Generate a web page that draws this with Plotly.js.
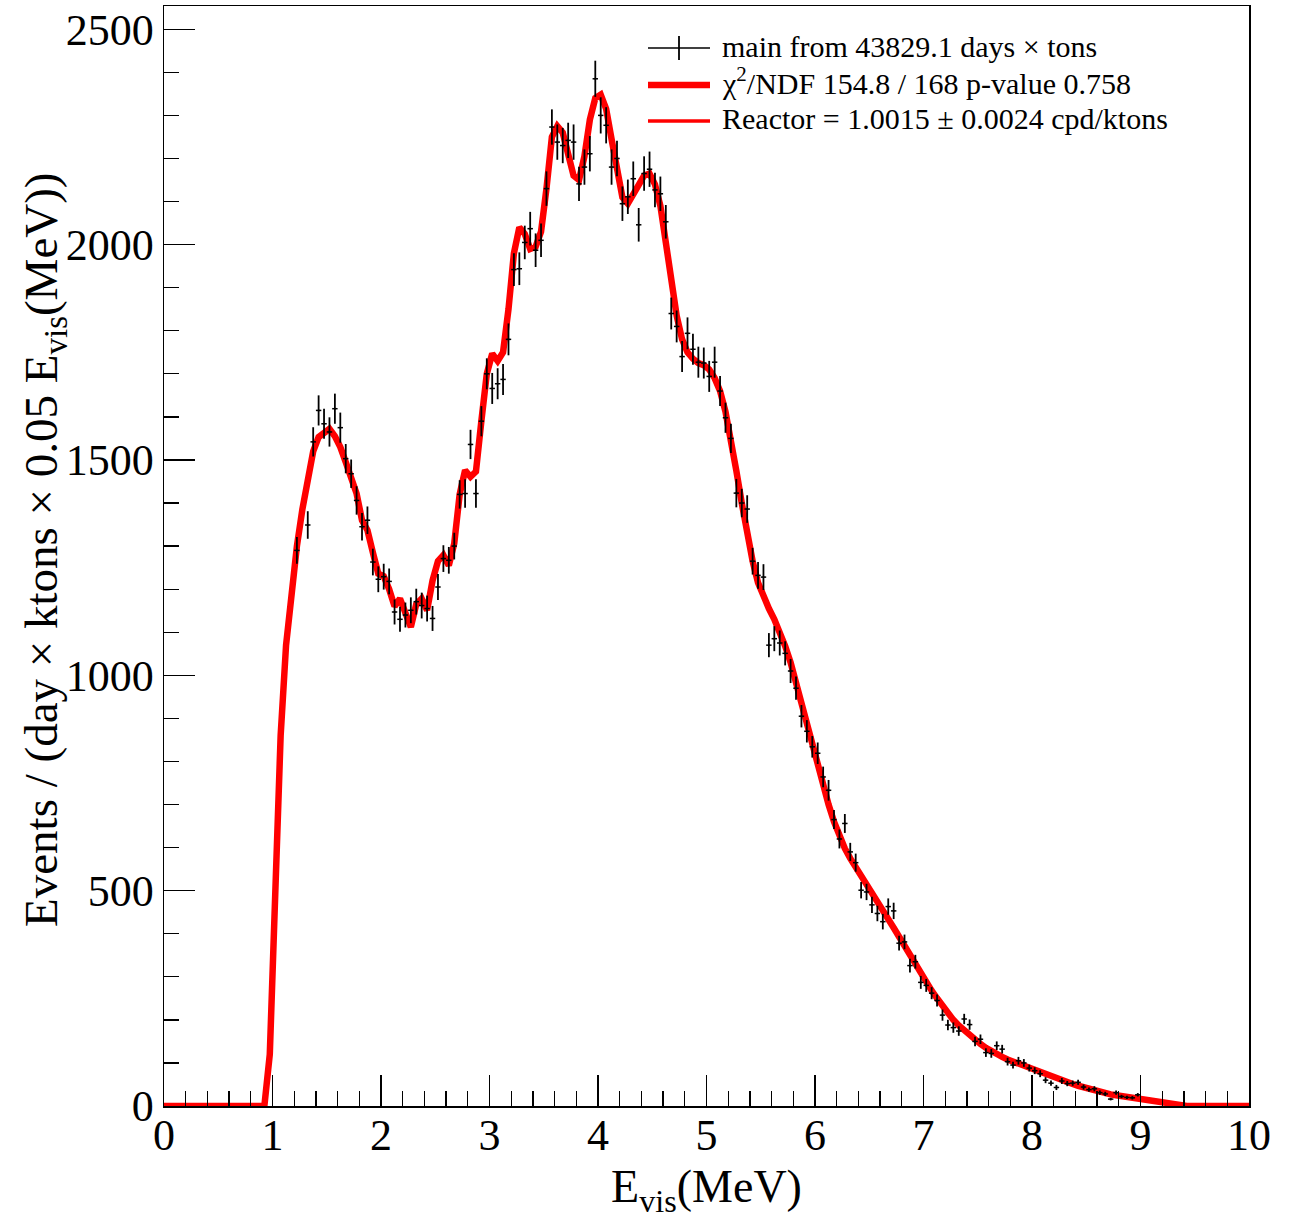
<!DOCTYPE html>
<html>
<head>
<meta charset="utf-8">
<script src="https://cdn.plot.ly/plotly-3.0.1.min.js"></script>
<style>html,body{margin:0;padding:0;background:#fff;}#chart{width:1294px;height:1219px;}</style>
</head>
<body>
<div id="chart"></div>
<script>
// ---------- data ----------
const dataE = [1.225,1.325,1.375,1.425,1.475,1.525,1.575,1.625,1.675,1.725,1.775,1.825,1.875,1.925,1.975,
2.025,2.075,2.125,2.175,2.225,2.275,2.325,2.375,2.425,2.475,2.525,2.575,2.625,2.675,2.725,2.775,2.825,2.875,2.925,2.975,
3.025,3.075,3.125,3.175,3.225,3.275,3.325,3.375,3.425,3.475,3.525,3.575,3.625,3.675,3.725,3.775,3.825,3.875,3.925,3.975,
4.025,4.075,4.125,4.175,4.225,4.275,4.325,4.375,4.425,4.475,4.525,4.575,4.625,4.675,4.725,4.775,4.825,4.875,4.925,4.975,
5.025,5.075,5.125,5.175,5.225,5.275,5.325,5.375,5.425,5.475,5.525,5.575,5.625,5.675,5.725,5.775,5.825,5.875,5.925,5.975,
6.025,6.075,6.125,6.175,6.225,6.275,6.325,6.375,6.425,6.475,6.525,6.575,6.625,6.675,6.725,6.775,6.825,6.875,6.925,6.975,
7.025,7.075,7.125,7.175,7.225,7.275,7.325,7.375,7.425,7.475,7.525,7.575,7.625,7.675,7.725,7.775,7.825,7.875,7.925,7.975,
8.025,8.075,8.125,8.175,8.225,8.275,8.325,8.375,8.425,8.475,8.525,8.575,8.625,8.675,8.725,8.775,8.825,8.875,8.925,8.975];

const dataCounts = [1290,1349,1542,1615,1584,1565,1619,1575,1503,1468,1406,1345,1360,1263,1223,
1229,1218,1147,1130,1140,1151,1171,1162,1155,1132,1205,1271,1267,1300,1420,1422,1536,1422,1590,1700,
1666,1677,1687,1780,1942,1944,2005,2037,1987,2010,2130,2273,2238,2230,2242,2238,2141,2180,2211,2385,
2300,2277,2180,2200,2095,2111,2153,2046,2165,2175,2127,2118,2053,1840,1810,1740,1794,1757,1727,1725,
1694,1727,1660,1598,1550,1423,1400,1386,1265,1232,1228,1070,1085,1075,1051,1010,970,905,870,834,
819,764,733,665,620,656,590,565,501,497,467,447,428,463,453,378,381,326,335,287,
280,262,245,211,188,182,174,202,189,150,155,124,122,140,132,103,95,105,100,88,
82,75,60,53,43,58,52,53,55,44,38,40,31,28,16,31,22,20,19,26];

const dataErrors = [31,32,34,35,35,34,35,35,34,33,33,32,32,31,30,
30,30,29,29,29,30,30,30,30,29,30,31,31,31,33,33,34,33,35,36,
36,36,36,37,38,38,39,39,39,39,40,41,41,41,41,41,40,41,41,42,
42,42,41,41,40,40,40,39,40,41,40,40,39,37,37,36,37,36,36,36,
36,36,35,35,34,33,33,32,31,31,30,28,29,29,28,28,27,26,26,25,
25,24,24,22,22,22,21,21,19,19,19,18,18,19,19,17,17,16,16,15,
15,14,14,13,12,12,11,12,12,11,11,10,10,10,10,9,8,9,9,8,
8,8,7,6,6,7,6,6,6,6,5,6,5,5,3,5,4,4,4,4];

const fitE = [0,0.925,0.975,1.025,1.075,1.125,1.175,1.225,1.275,1.325,1.375,1.425,1.475,1.525,1.575,1.625,1.675,1.725,1.775,1.825,1.875,1.925,1.975,
2.025,2.075,2.125,2.175,2.225,2.275,2.325,2.375,2.425,2.475,2.525,2.575,2.625,2.675,2.725,2.775,2.825,2.875,2.925,2.975,
3.025,3.075,3.125,3.175,3.225,3.275,3.325,3.375,3.425,3.475,3.525,3.575,3.625,3.675,3.725,3.775,3.825,3.875,3.925,3.975,
4.025,4.075,4.125,4.175,4.225,4.275,4.325,4.375,4.425,4.475,4.525,4.575,4.625,4.675,4.725,4.775,4.825,4.875,4.925,4.975,
5.025,5.075,5.125,5.175,5.225,5.275,5.325,5.375,5.425,5.475,5.525,5.575,5.625,5.675,5.725,5.775,5.825,5.875,5.925,5.975,
6.025,6.075,6.125,6.175,6.225,6.275,6.325,6.375,6.425,6.475,6.525,6.575,6.625,6.675,6.725,6.775,6.825,6.875,6.925,6.975,
7.025,7.075,7.125,7.175,7.225,7.275,7.325,7.375,7.425,7.475,7.525,7.575,7.625,7.675,7.725,7.775,7.825,7.875,7.925,7.975,
8.025,8.075,8.125,8.175,8.225,8.275,8.325,8.375,8.425,8.475,8.525,8.575,8.625,8.675,8.725,8.775,8.825,8.875,8.925,8.975,
9.025,9.075,9.125,9.175,9.225,9.275,9.325,9.375,9.425,10];

const fitCounts = [0,0,120,510,860,1070,1195,1300,1385,1460,1520,1553,1565,1572,1555,1530,1495,1455,1422,1360,1337,1285,1236,
1230,1200,1160,1178,1145,1112,1165,1178,1151,1220,1265,1279,1255,1306,1420,1476,1461,1473,1590,1700,
1747,1730,1750,1850,1980,2040,2025,1990,1995,2030,2130,2250,2275,2260,2210,2160,2150,2205,2290,2340,
2348,2315,2245,2170,2110,2095,2115,2140,2160,2165,2140,2090,2010,1910,1835,1780,1750,1735,1725,1720,
1710,1690,1660,1612,1550,1475,1400,1330,1265,1215,1180,1155,1130,1100,1068,1030,982,932,880,830,
790,745,700,660,625,598,575,555,537,520,500,480,458,436,414,393,371,350,328,308,
288,268,250,232,215,200,187,175,164,154,144,135,127,120,114,108,103,98,93,88,
83,78,73,68,63,59,55,51,47,43,40,36,33,30,27,25,23,21,19,17,
15,13,10,7,5,3,1.5,0.5,0,0];

const xTickVals = [0,1,2,3,4,5,6,7,8,9,10];
const yTickVals = [0,500,1000,1500,2000,2500];
const xTitle = "E<sub>vis</sub>(MeV)";
const yTitle = "Events / (day × ktons × 0.05 E<sub>vis</sub>(MeV))";
const legendLabels = [
  "main from 43829.1 days × tons",
  "χ<sup>2</sup>/NDF 154.8 / 168 p-value 0.758",
  "Reactor = 1.0015 ± 0.0024 cpd/ktons"
];

// ---------- plot ----------
const FONT = "Liberation Serif, Times New Roman, serif";
const PW = 1085, PH = 1100, ML = 164, MT = 6;   // plot area in px
const px2x = p => (p - ML) / PW;                 // pixel -> paper x
const py2y = p => 1 - (p - MT) / PH;             // pixel -> paper y

const fitTrace = {
  x: fitE, y: fitCounts, type: "scatter", mode: "lines",
  line: {color: "#ff0000", width: 6.5},
  hoverinfo: "skip", showlegend: false
};
const dataTrace = {
  x: dataE, y: dataCounts, type: "scatter", mode: "markers",
  marker: {color: "black", size: 2},
  error_y: {type: "data", array: dataErrors, visible: true, color: "black", thickness: 1.8, width: 0},
  error_x: {type: "constant", value: 0.025, visible: true, color: "black", thickness: 1.5, width: 0},
  showlegend: false
};

const axisCommon = {
  showline: true, linecolor: "black", linewidth: 1.5, mirror: true,
  ticks: "inside", ticklen: 31, tickwidth: 1.3, tickcolor: "black",
  showgrid: false, zeroline: false,
  tickfont: {family: FONT, size: 44, color: "black"}
};

// manual legend (ROOT style, no frame)
const legRows = [48, 85, 121];
const legTextShift = [2, 4, 2];
const legX0 = px2x(648), legX1 = px2x(710), legXm = px2x(679);
const shapes = [
  {type: "line", xref: "paper", yref: "paper", x0: legX0, x1: legX1, y0: py2y(legRows[0]), y1: py2y(legRows[0]), line: {color: "black", width: 1.5}},
  {type: "line", xref: "paper", yref: "paper", x0: legXm, x1: legXm, y0: py2y(legRows[0] - 12), y1: py2y(legRows[0] + 12), line: {color: "black", width: 1.8}},
  {type: "line", xref: "paper", yref: "paper", x0: legX0, x1: legX1, y0: py2y(legRows[1]), y1: py2y(legRows[1]), line: {color: "#ff0000", width: 6.5}},
  {type: "line", xref: "paper", yref: "paper", x0: legX0, x1: legX1, y0: py2y(legRows[2]), y1: py2y(legRows[2]), line: {color: "#ff0000", width: 3.5}}
];
const annotations = legendLabels.map((t, i) => ({
  text: t, xref: "paper", yref: "paper", x: px2x(720), y: py2y(legRows[i]), yshift: legTextShift[i],
  xanchor: "left", yanchor: "middle", showarrow: false,
  font: {family: FONT, size: 30, color: "black"}
}));
// y-axis title, placed like ROOT (overlapping the tick-label column)
annotations.push({
  text: yTitle, xref: "paper", yref: "paper", x: px2x(44), y: py2y(550),
  xanchor: "center", yanchor: "middle", textangle: -90, showarrow: false,
  font: {family: FONT, size: 47, color: "black"}
});

const layout = {
  width: 1294, height: 1219,
  margin: {l: ML, r: 45, t: MT, b: 113},
  paper_bgcolor: "white", plot_bgcolor: "white",
  showlegend: false,
  xaxis: Object.assign({}, axisCommon, {
    range: [0, 10], tickvals: xTickVals, ticklabelstandoff: -10,
    minor: {ticks: "inside", ticklen: 15, dtick: 0.2, tickcolor: "black", tickwidth: 1.3, showgrid: false},
    title: {text: xTitle, font: {family: FONT, size: 46, color: "black"}, standoff: 14}
  }),
  yaxis: Object.assign({}, axisCommon, {
    range: [0, 2554], tickvals: yTickVals,
    minor: {ticks: "inside", ticklen: 15, dtick: 100, tickcolor: "black", tickwidth: 1.3, showgrid: false}
  }),
  shapes: shapes,
  annotations: annotations
};

Plotly.newPlot("chart", [fitTrace, dataTrace], layout, {displayModeBar: false, staticPlot: true});
</script>
</body>
</html>
